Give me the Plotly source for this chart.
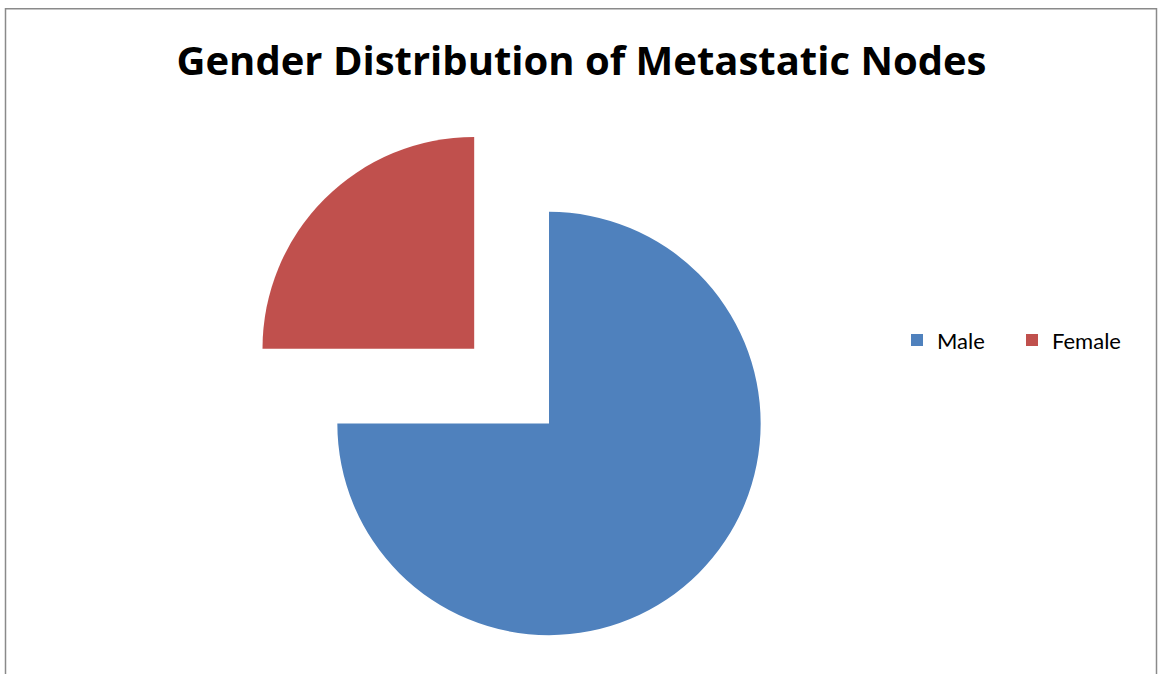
import plotly.graph_objects as go

# Data
labels = ["Male", "Female"]
values = [75, 25]
slice_colors = ["#4F81BD", "#C0504D"]
pull_out = [0, 0.5]

title_text = "Gender Distribution of Metastatic Nodes"

FIG_W, FIG_H = 1158, 760
M_L, M_R, M_T, M_B = 0, 60, 105.5, 18.5
PLOT_W = FIG_W - M_L - M_R
PLOT_H = FIG_H - M_T - M_B


def px_x(px):
    return (px - M_L) / PLOT_W


def px_y(py):
    return 1 - (py - M_T) / PLOT_H


fig = go.Figure(
    go.Pie(
        labels=labels,
        values=values,
        marker=dict(colors=slice_colors, line=dict(width=0)),
        pull=pull_out,
        sort=False,
        direction="clockwise",
        rotation=0,
        textinfo="none",
        hoverinfo="label+value+percent",
    )
)

# Outer frame around the chart area
fig.add_shape(
    type="rect",
    xref="paper", yref="paper",
    x0=px_x(5.5), x1=px_x(1156.5),
    y0=px_y(FIG_H + 40), y1=px_y(8),
    line=dict(color="#8a8a8a", width=1.5),
    fillcolor="rgba(0,0,0,0)",
    layer="below",
)

fig.update_layout(
    width=FIG_W,
    height=FIG_H,
    margin=dict(l=M_L, r=M_R, t=M_T, b=M_B, pad=0),
    paper_bgcolor="white",
    plot_bgcolor="white",
    title=dict(
        text="<b>" + title_text + "</b>",
        x=581.5 / FIG_W,
        xref="container",
        xanchor="center",
        y=1 - 61 / FIG_H,
        yref="container",
        yanchor="middle",
        font=dict(family="Open Sans", size=40, color="black"),
    ),
    legend=dict(
        orientation="h",
        x=px_x(897),
        xanchor="left",
        y=px_y(340),
        yanchor="middle",
        font=dict(family="Lato", size=22, color="black"),
        entrywidth=70,
        itemwidth=30,
        bgcolor="rgba(0,0,0,0)",
    ),
    showlegend=True,
)

fig.write_html(
    "out.html",
    post_script="document.documentElement.style.overflow='hidden';document.body.style.overflow='hidden';document.body.style.margin='0';",
)
